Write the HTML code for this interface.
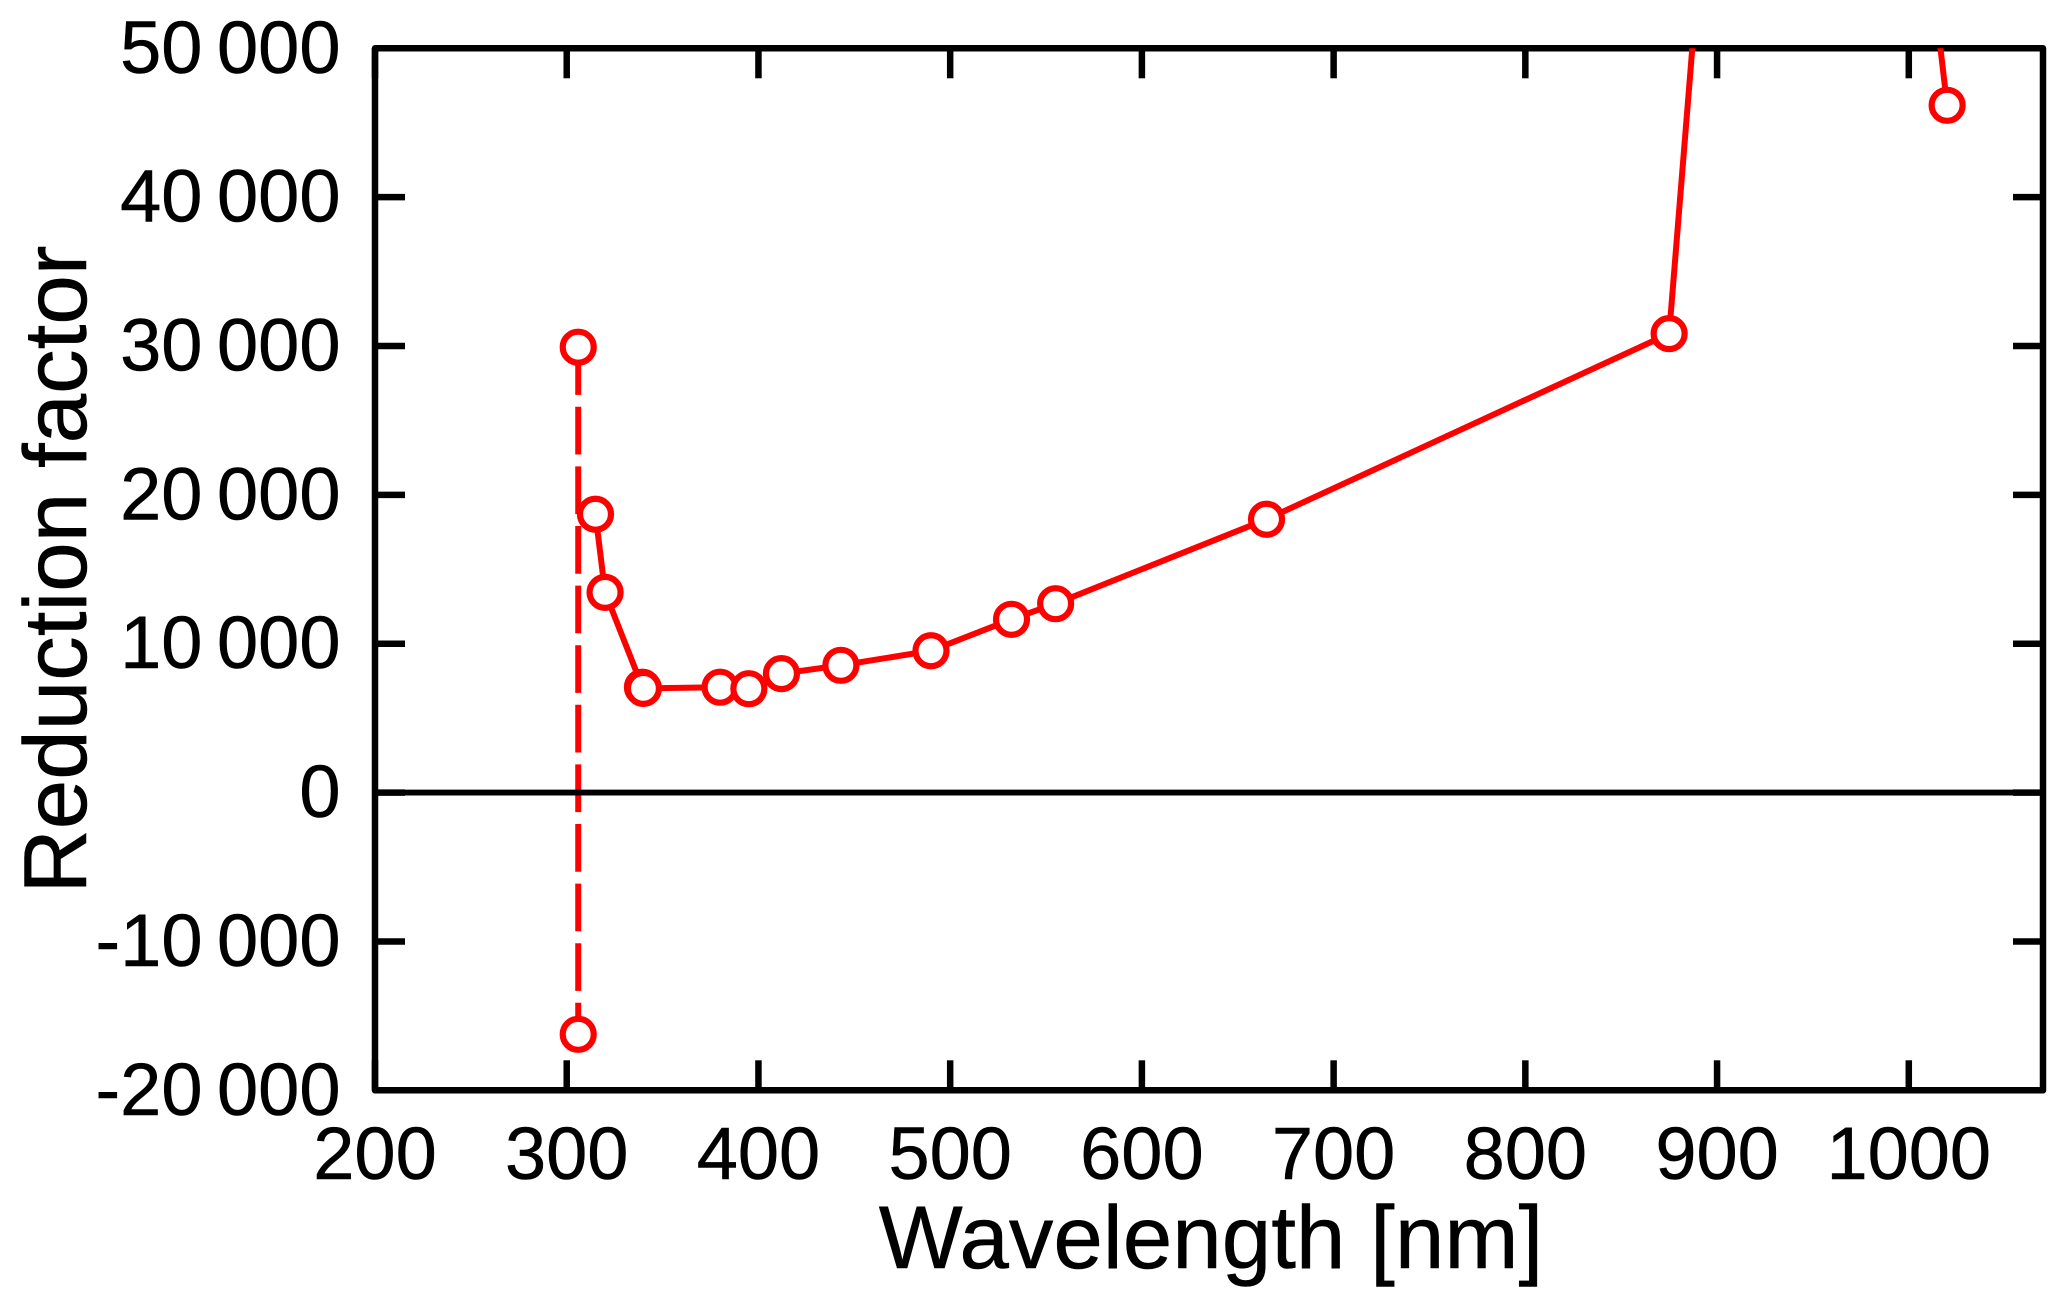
<!DOCTYPE html>
<html lang="en">
<head>
<meta charset="utf-8">
<title>Reduction factor vs wavelength</title>
<style>
html,body{margin:0;padding:0;background:#fff;}
svg{display:block;}
text{font-family:"Liberation Sans",Arial,sans-serif;fill:#000;stroke:#000;stroke-width:0.5px;}
.tick-label{font-size:74px;}
.axis-title{font-size:89px;}
</style>
</head>
<body>
<svg id="chart" xmlns="http://www.w3.org/2000/svg" width="2067" height="1309" viewBox="0 0 2067 1309">
<rect x="0" y="0" width="2067" height="1309" fill="#fff"/>
<text class="axis-title" x="1211" y="1268" text-anchor="middle">Wavelength [nm]</text>
<text class="axis-title" transform="translate(86 569.5) rotate(-90)" x="0" y="0" text-anchor="middle">Reduction factor</text>
</svg>
<script>
const xTicks = [200, 300, 400, 500, 600, 700, 800, 900, 1000];
const xTickLabels = ['200', '300', '400', '500', '600', '700', '800', '900', '1000'];
const yTicks = [-20000, -10000, 0, 10000, 20000, 30000, 40000, 50000];
const yTickLabels = ['-20 000', '-10 000', '0', '10 000', '20 000', '30 000', '40 000', '50 000'];
const wavelengths = [315, 320, 339.5, 340, 380, 395, 412, 443, 490, 532, 555, 665, 875, 940, 1020];
const reductionFactors = [18700, 13450, 7080, 7000, 7080, 6980, 7990, 8550, 9530, 11640, 12690, 18360, 30830, 134000, 46170];
const dashedWavelengths = [306, 306];
const dashedFactors = [29920, -16240];

const xMin = 200, xMax = 1070, yMin = -20000, yMax = 50000;
const plotLeft = 375, plotRight = 2043, plotTop = 48.3, plotBottom = 1090.3;
const xScale = v => plotLeft + (v - xMin) / (xMax - xMin) * (plotRight - plotLeft);
const yScale = v => plotBottom - (v - yMin) / (yMax - yMin) * (plotBottom - plotTop);

const NS = 'http://www.w3.org/2000/svg';
const svg = document.getElementById('chart');
function make(tag, attrs, parent) {
  const el = document.createElementNS(NS, tag);
  for (const k in attrs) el.setAttribute(k, attrs[k]);
  (parent || svg).appendChild(el);
  return el;
}

const defs = make('defs', {});
const clip = make('clipPath', {id: 'plot-clip'}, defs);
make('rect', {x: plotLeft, y: plotTop, width: plotRight - plotLeft, height: plotBottom - plotTop}, clip);

const frameGroup = make('g', {stroke: '#000', 'stroke-width': 6.5, fill: 'none'});



const frame = make('rect', {x: plotLeft, y: plotTop, width: plotRight - plotLeft, height: plotBottom - plotTop, 'stroke-linejoin': 'round'}, frameGroup);



const tickLen = 30;
xTicks.forEach((t, i) => {
  const x = xScale(t);
  const b = make('line', {x1: x, x2: x, y1: plotBottom, y2: plotBottom - tickLen}, frameGroup);
  
  
  const u = make('line', {x1: x, x2: x, y1: plotTop, y2: plotTop + tickLen}, frameGroup);
  
  
  const label = make('text', {x: x, y: 1179, 'text-anchor': 'middle', class: 'tick-label'});
  label.textContent = xTickLabels[i];
  
  
});
yTicks.forEach((t, i) => {
  const y = yScale(t);
  const l = make('line', {x1: plotLeft, x2: plotLeft + tickLen, y1: y, y2: y}, frameGroup);
  
  
  const r = make('line', {x1: plotRight, x2: plotRight - tickLen, y1: y, y2: y}, frameGroup);
  
  
  const label = make('text', {x: 340.5, y: y + 24.5, 'text-anchor': 'end', class: 'tick-label', 'word-spacing': '-6px'});
  label.textContent = yTickLabels[i];
  
  
});

const series = make('g', {'clip-path': 'url(#plot-clip)'});



const dashedLine = make('polyline', {
  points: dashedWavelengths.map((w, i) => xScale(w) + ',' + yScale(dashedFactors[i])).join(' '),
  fill: 'none', stroke: '#f00', 'stroke-width': 6, 'stroke-dasharray': '47.7 11.9'
}, series);



const solidLine = make('polyline', {
  points: wavelengths.map((w, i) => xScale(w) + ',' + yScale(reductionFactors[i])).join(' '),
  fill: 'none', stroke: '#f00', 'stroke-width': 6, 'stroke-linejoin': 'round'
}, series);



dashedWavelengths.forEach((w, i) => {
  const c = make('circle', {cx: xScale(w), cy: yScale(dashedFactors[i]), r: 15.5, fill: '#fff', stroke: '#f00', 'stroke-width': 6.2}, series);
  
  
});
wavelengths.forEach((w, i) => {
  const c = make('circle', {cx: xScale(w), cy: yScale(reductionFactors[i]), r: 15.5, fill: '#fff', stroke: '#f00', 'stroke-width': 6.2}, series);
  
  
});

const zeroLine = make('line', {x1: plotLeft, x2: plotRight, y1: yScale(0), y2: yScale(0), stroke: '#000', 'stroke-width': 5.8});


</script>
</body>
</html>
